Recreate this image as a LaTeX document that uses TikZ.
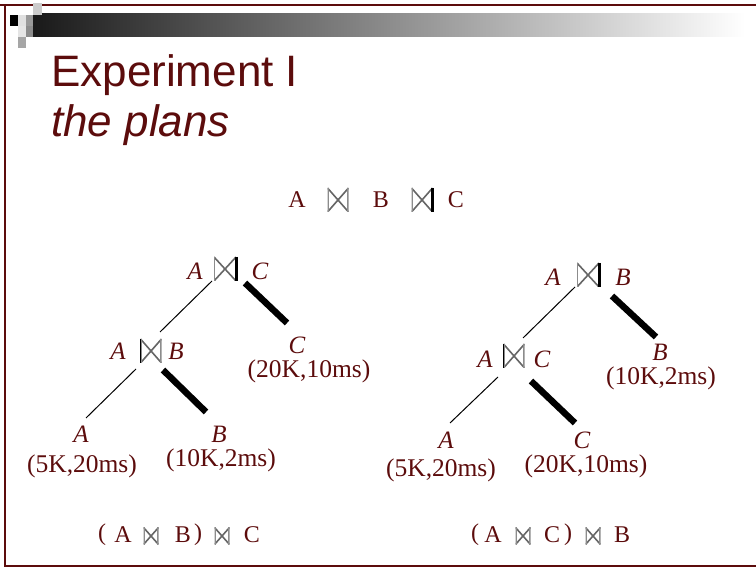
\documentclass[tikz,border=0pt]{standalone}
\usepackage{fontspec}
\setmainfont{Liberation Serif}
\newfontfamily\titlefont{Liberation Sans}
\definecolor{dred}{RGB}{92,12,12}
\tikzset{
  lbl/.style={text=dred, inner sep=0pt, font=\fontsize{25}{27}\selectfont\itshape},
  plain/.style={text=dred, inner sep=0pt, font=\fontsize{24}{26}\selectfont},
  small/.style={text=dred, inner sep=0pt, font=\fontsize{25.5}{27}\selectfont},
  bottom/.style={text=dred, inner sep=0pt, font=\fontsize{24}{26}\selectfont},
  btline/.style={draw=black!60, line width=1.6pt},
  bowtie/.style={inner sep=0pt, minimum width=#1, minimum height=24pt,
    path picture={
      \draw[btline] (path picture bounding box.north west) -- (path picture bounding box.south east);
      \draw[btline] (path picture bounding box.south west) -- (path picture bounding box.north east);
      \draw[btline, draw=black!45, line width=2.6pt] (path picture bounding box.north west) -- (path picture bounding box.south west);
      \draw[btline, draw=black!45, line width=2.6pt] (path picture bounding box.north east) -- (path picture bounding box.south east);
    }},
  bowtie/.default=21pt,
  bar/.style={draw=black, line width=3pt},
  thinbar/.style={draw=black, line width=1.5pt},
  thin/.style={draw=black, line width=1pt},
  thick/.style={draw=black, line width=6.5pt},
}
\begin{document}
\begin{tikzpicture}[x=1pt,y=-1pt]
\useasboundingbox (0,0) rectangle (756,569);
% frame
\draw[dred, line width=2.5pt] (0,5) -- (756,5);
\draw[dred, line width=2.5pt] (5,5) -- (5,566) -- (756,566);
% gradient bar
\shade[left color=black!90, right color=white] (33,14) rectangle (745,37);
\fill[black] (10,15) rectangle (18,26);
\fill[black!12] (18,15) rectangle (26,26);
\fill[black!40] (26,15) rectangle (33,26);
\fill[black!20] (33,3) rectangle (42,15);
\fill[black!10] (18,26) rectangle (26,37);
\fill[black!45] (26,26) rectangle (33,37);
\fill[black!35] (18,37) rectangle (26,48);
% title
\node[anchor=base west, inner sep=0pt, text=dred, font=\titlefont\fontsize{44}{48}\selectfont] (t1) at (51,87) {Experiment I};
\node[anchor=base west, inner sep=0pt, text=dred, font=\titlefont\fontsize{44}{48}\selectfont\itshape] (t2) at (51,137) {the plans};
% top expression
\node[plain] (qa) at (297,200) {A};
\node[bowtie] (qj1) at (338,200) {};
\node[plain] (qb) at (381,200) {B};
\node[bowtie] (qj2) at (422,200) {};
\draw[bar] (qj2.north east) -- (qj2.south east);
\node[plain] (qc) at (456,200) {C};
% left tree
\node[lbl] (l1a) at (195,271) {A};
\node[bowtie=22pt] (l1j) at (225,269) {};
\draw[bar] (l1j.north east) -- (l1j.south east);
\node[lbl] (l1c) at (260,271) {C};
\node[lbl] (l2a) at (118,351) {A};
\node[bowtie] (l2j) at (151,351) {};
\draw[thinbar] (l2j.north west) -- (l2j.south west);
\node[lbl] (l2b) at (176,351) {B};
\node[lbl] (lc) at (297,345) {C};
\node[small] (lcs) at (309,371) {(20K,10ms)};
\node[lbl] (la) at (81,434) {A};
\node[small] (las) at (82,466) {(5K,20ms)};
\node[lbl] (lb) at (219,434) {B};
\node[small] (lbs) at (221,460) {(10K,2ms)};
\coordinate (l1s) at (212,281);
\coordinate (l1e) at (160,332);
\coordinate (l1r) at (245,283);
\coordinate (l1re) at (287,323);
\coordinate (l2s) at (136,369);
\coordinate (l2e) at (86,418);
\coordinate (l2r) at (163,370);
\coordinate (l2re) at (206,412);
\draw[thin] (l1s) -- (l1e);
\draw[thick] (l1r) -- (l1re);
\draw[thin] (l2s) -- (l2e);
\draw[thick] (l2r) -- (l2re);
% right tree
\node[lbl] (r1a) at (553,277) {A};
\node[bowtie=22pt] (r1j) at (588,275) {};
\draw[bar] (r1j.north east) -- (r1j.south east);
\node[lbl] (r1b) at (623,277) {B};
\node[lbl] (r2a) at (485,359) {A};
\node[bowtie] (r2j) at (514,356) {};
\draw[thinbar] (r2j.north west) -- (r2j.south west);
\node[lbl] (r2c) at (542,359) {C};
\node[lbl] (rb) at (660,352) {B};
\node[small] (rbs) at (661,378) {(10K,2ms)};
\node[lbl] (ra) at (446,440) {A};
\node[small] (ras) at (441,470) {(5K,20ms)};
\node[lbl] (rc) at (582,440) {C};
\node[small] (rcs) at (586,466) {(20K,10ms)};
\coordinate (r1s) at (575,287);
\coordinate (r1e) at (523,338);
\coordinate (r1r) at (612,296);
\coordinate (r1re) at (656,337);
\coordinate (r2s) at (498,377);
\coordinate (r2e) at (450,423);
\coordinate (r2r) at (531,381);
\coordinate (r2re) at (575,423);
\draw[thin] (r1s) -- (r1e);
\draw[thick] (r1r) -- (r1re);
\draw[thin] (r2s) -- (r2e);
\draw[thick] (r2r) -- (r2re);
% bottom expressions
\node[bottom] (b1p) at (102,535) {(};
\node[bottom] (b1a) at (123,535) {A};
\node[bowtie=15pt, minimum height=17pt] (b1j) at (151,536) {};
\node[bottom] (b1b) at (183,535) {B};
\node[bottom] (b1q) at (198,535) {)};
\node[bowtie=15pt, minimum height=17pt] (b1k) at (222,536) {};
\node[bottom] (b1c) at (252,535) {C};
\node[bottom] (b2p) at (475,535) {(};
\node[bottom] (b2a) at (493,535) {A};
\node[bowtie=15pt, minimum height=17pt] (b2j) at (523,536) {};
\node[bottom] (b2c) at (552,535) {C};
\node[bottom] (b2q) at (568,535) {)};
\node[bowtie=15pt, minimum height=17pt] (b2k) at (593,536) {};
\node[bottom] (b2b) at (622,535) {B};
\end{tikzpicture}
\end{document}
